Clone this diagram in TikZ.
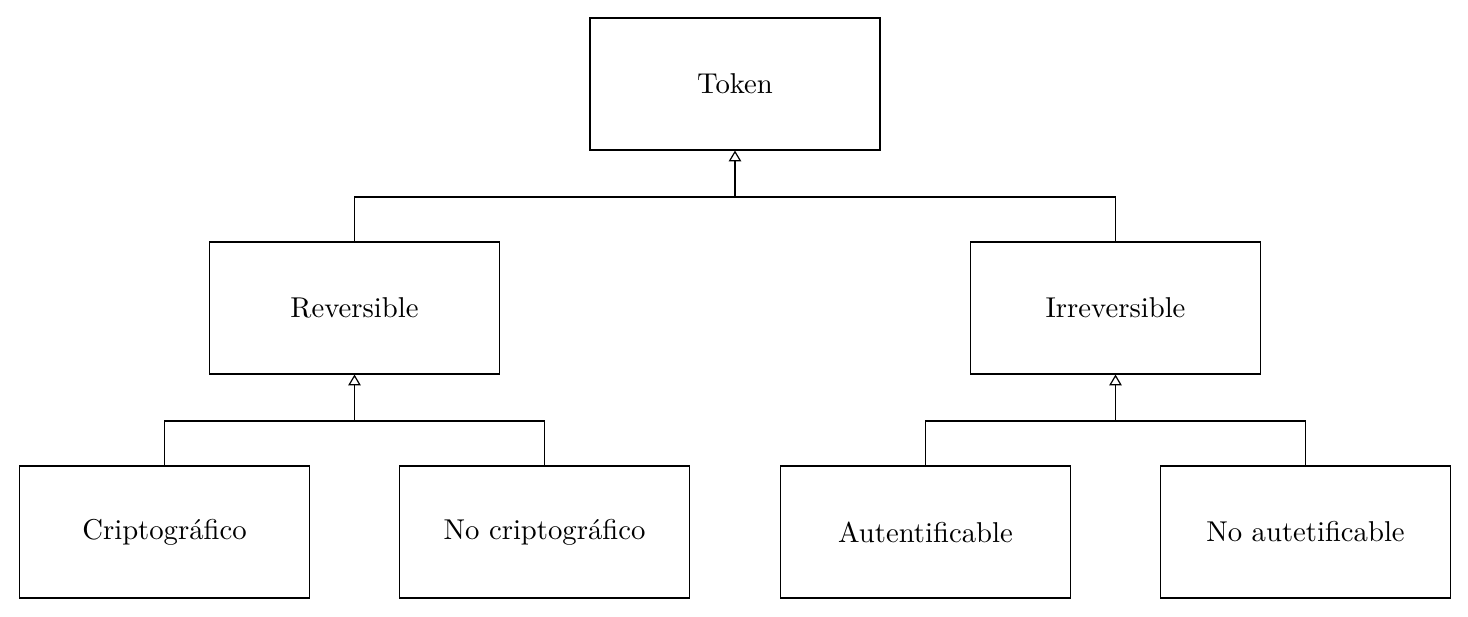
\documentclass[tikz,border=0pt]{standalone}
\usetikzlibrary{arrows.meta}
\begin{document}
\begin{tikzpicture}[x=0.373pt,y=-0.373pt,
  box/.style={draw, line width=0.4pt, minimum width=290*0.373pt, minimum height=132*0.373pt, inner sep=0pt, font=\fontsize{10.7}{13}\selectfont},
  inh/.style={-{Triangle[open,width=4.6pt,length=4pt]}, line width=0.45pt}]
\useasboundingbox (0,0) rectangle (1468,617);
\node[box] (token) at (735,84) {Token};
\node[box] (rev) at (354.5,308) {Reversible};
\node[box] (irr) at (1115.5,308) {Irreversible};
\node[box] (cri) at (164.5,532) {Criptográfico};
\node[box] (nocri) at (544.5,532) {No criptográfico};
\node[box] (aut) at (925.5,532) {Autentificable};
\node[box] (noaut) at (1305.5,532) {No autetificable};
\coordinate (j1) at (735,197);
\coordinate (j2) at (354.5,421);
\coordinate (j3) at (1115.5,421);
\draw[inh] (j1) -- (token.south);
\draw (rev.north) |- (j1) -| (irr.north);
\draw[inh] (j2) -- (rev.south);
\draw (cri.north) |- (j2) -| (nocri.north);
\draw[inh] (j3) -- (irr.south);
\draw (aut.north) |- (j3) -| (noaut.north);
\end{tikzpicture}
\end{document}
